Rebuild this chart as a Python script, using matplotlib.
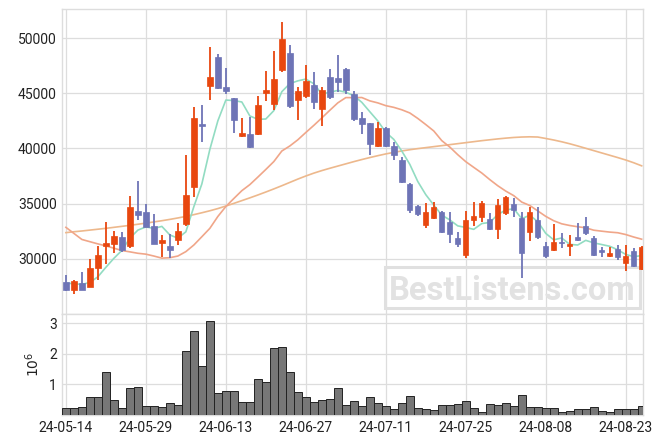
import matplotlib
matplotlib.use("Agg")
import matplotlib.pyplot as plt
from matplotlib.patches import Rectangle
import numpy as np
import pandas as pd

plt.rcParams['font.family'] = ['Roboto', 'DejaVu Sans']

# ---- data ----
opens = [27857, 27135, 27797, 27406, 29210, 31196, 31316, 31978, 31166, 34324,
         34234, 32970, 31468, 31137, 31709, 33183, 36522, 42177, 45696, 48253,
         45546, 44523, 41154, 41275, 41275, 45004, 43981, 47140, 48674, 44403,
         44734, 45786, 43560, 46508, 46418, 47200, 44883, 42717, 42266, 40190,
         41815, 40250, 38927, 36731, 34776, 33091, 33723, 34233, 33331, 31917,
         30353, 33541, 33782, 33571, 32729, 34173, 34955, 33722, 32459, 33512,
         31166, 30835, 31527, 31196, 31978, 32970, 31858, 30835, 30293, 30865,
         29662, 30715, 29120]
highs = [28549, 28098, 28789, 29963, 31166, 33361, 32550, 32399, 35678, 37061,
         34956, 34055, 32160, 32250, 33213, 39379, 43711, 43891, 49215, 48553,
         47290, 44583, 42748, 42838, 44763, 47020, 48824, 51441, 49396, 45606,
         47561, 46929, 45546, 47200, 48493, 47250, 45244, 43319, 42300, 42416,
         41900, 40611, 39228, 36821, 34896, 35077, 35167, 34300, 34233, 32459,
         34353, 35106, 35226, 34113, 35376, 35707, 35527, 34203, 34714, 34655,
         31557, 33181, 32309, 32128, 33211, 33783, 32068, 31106, 31106, 31256,
         31256, 31015, 31166]
lows = [27045, 26804, 27135, 27406, 28098, 29511, 30504, 30654, 31015, 33512,
        32850, 31347, 30205, 30054, 31257, 33000, 35619, 40582, 44403, 45395,
        44900, 41395, 41034, 40071, 41215, 44282, 43440, 46899, 43700, 42538,
        44600, 43560, 41996, 44463, 45064, 44950, 42500, 41333, 39378, 40100,
        40100, 38927, 36821, 34174, 33900, 32761, 33600, 32368, 31406, 31045,
        30052, 33000, 33300, 32600, 31767, 34000, 33752, 28247, 31616, 31767,
        30053, 30700, 31015, 30293, 31600, 32158, 30263, 30143, 30143, 29903,
        28940, 29240, 29000]
closes = [27135, 28007, 27195, 29150, 30354, 31437, 32068, 30805, 34685, 33993,
          32910, 31348, 31739, 30806, 32551, 35770, 42748, 42026, 46448, 45485,
          45185, 42538, 41365, 40131, 43951, 45335, 46328, 49937, 43801, 45185,
          46147, 44222, 45245, 44643, 45997, 45335, 42657, 42236, 40401, 41815,
          40190, 39438, 36972, 34385, 34024, 34235, 34716, 32428, 32218, 31316,
          33511, 33872, 35045, 32729, 34865, 35617, 34414, 30563, 34263, 32008,
          30263, 31497, 31406, 31346, 31737, 32369, 30354, 30654, 30564, 30143,
          30263, 29361, 31106]
volumes_m = [0.22, 0.22, 0.26, 0.59, 0.59, 1.42, 0.50, 0.22, 0.89, 0.92,
             0.29, 0.29, 0.26, 0.39, 0.32, 2.09, 2.76, 1.59, 3.06, 0.72,
             0.79, 0.79, 0.42, 0.42, 1.19, 1.09, 2.19, 2.22, 1.39, 0.76,
             0.59, 0.42, 0.49, 0.52, 0.89, 0.32, 0.47, 0.29, 0.59, 0.39,
             0.29, 0.19, 0.39, 0.62, 0.22, 0.19, 0.16, 0.32, 0.32, 0.36,
             0.46, 0.22, 0.09, 0.36, 0.32, 0.39, 0.29, 0.66, 0.26, 0.26,
             0.22, 0.22, 0.09, 0.12, 0.19, 0.19, 0.26, 0.12, 0.09, 0.19,
             0.19, 0.19, 0.29]
# moving-average values before enough history is available
ma5_head = [27800, 27740, 27680, 27860]
ma20_head = [32850, 32300, 31750, 31550, 31350, 31170, 30960, 30750, 30630, 30500,
             30420, 30250, 30060, 30100, 30250, 30650, 31250, 32000, 32760]
# long moving average
ma_long = [32370, 32450, 32520, 32600, 32680, 32760, 32850, 32940, 33030, 33130,
           33230, 33340, 33450, 33570, 33700, 33840, 34000, 34170, 34350, 34550,
           34780, 35020, 35270, 35520, 35780, 36050, 36330, 36620, 36920, 37220,
           37500, 37760, 37990, 38200, 38400, 38600, 38800, 38990, 39170, 39340,
           39500, 39640, 39770, 39880, 39980, 40070, 40160, 40250, 40340, 40430,
           40520, 40610, 40700, 40780, 40860, 40930, 40990, 41030, 41050, 41030,
           40900, 40760, 40600, 40420, 40220, 40010, 39800, 39590, 39380, 39170,
           38950, 38700, 38420]
tick_idx = [0, 10, 20, 30, 40, 50, 60, 70]
tick_labels = ['24-05-14', '24-05-29', '24-06-13', '24-06-27',
               '24-07-11', '24-07-25', '24-08-08', '24-08-23']
price_ticks = [30000, 35000, 40000, 45000, 50000]
vol_ticks = [1, 2, 3]

# ---- derived ----
n = len(closes)
x = np.arange(n)
cs = pd.Series(closes, dtype=float)
ma5 = cs.rolling(5).mean().to_numpy()
ma5[:4] = ma5_head
ma20 = cs.rolling(20).mean().to_numpy()
ma20[:19] = ma20_head

UP = '#E8470F'
DOWN = '#6E74B6'
GRID = '#DDDDDD'

W, H = 663, 444
fig = plt.figure(figsize=(W/100, H/100), dpi=100)
ax = fig.add_axes([62.3/W, 1-314/H, (643.3-62.3)/W, (314-9.3)/H])
axv = fig.add_axes([62.3/W, 1-415/H, (643.3-62.3)/W, (415-314)/H], sharex=ax)

for a in (ax, axv):
    a.set_facecolor('white')
    for s in a.spines.values():
        s.set_color(GRID)
        s.set_linewidth(1.0)
    a.grid(True, color=GRID, linewidth=0.9)
    a.set_axisbelow(True)
    a.tick_params(length=0, labelsize=10, colors='#222222', pad=4)

# watermark (behind the marks)
ax.add_patch(Rectangle((385/W, 1-308/H), (640-385)/W, (308-267)/H,
                       transform=fig.transFigure, facecolor='none',
                       edgecolor='#E0E0E0', linewidth=2.2, zorder=1, clip_on=False))
ax.text(512.5/W, 1-300/H, 'BestListens.com', transform=fig.transFigure,
        fontsize=23.5, fontweight='bold', color='#E2E2E2',
        ha='center', va='baseline', zorder=1, clip_on=False)

# moving averages
ax.plot(x, ma_long, color='#EDB88C', linewidth=1.2, zorder=2)
ax.plot(x, ma20, color='#F0A689', linewidth=1.2, zorder=2)
ax.plot(x, ma5, color='#92DCC2', linewidth=1.2, zorder=2)

# candles
for i in range(n):
    o, h, l, c = opens[i], highs[i], lows[i], closes[i]
    col = UP if c >= o else DOWN
    ax.vlines(x[i], l, h, color=col, linewidth=1.3, zorder=3)
    ax.bar(x[i], abs(c - o) if abs(c - o) > 60 else 60, bottom=min(o, c),
           width=0.68, color=col, edgecolor=col, linewidth=0.5, zorder=4)

ax.set_xlim(-0.45, 72.2)
ax.set_ylim(25000, 52600)
ax.set_yticks(price_ticks)
ax.set_yticklabels([str(v) for v in price_ticks])
ax.tick_params(axis='x', labelbottom=False)

# volume
axv.bar(x, volumes_m, width=1.0, color='#777777', edgecolor='#222222', linewidth=0.7, zorder=3)
axv.set_ylim(0, 3.3)
axv.set_yticks(vol_ticks)
axv.set_yticklabels([str(v) for v in vol_ticks])
axv.set_xticks(tick_idx)
axv.set_xticklabels(tick_labels)
axv.set_ylabel(r'$10^6$', fontsize=10, labelpad=5, color='#222222')

fig.savefig('out.png', dpi=100)
